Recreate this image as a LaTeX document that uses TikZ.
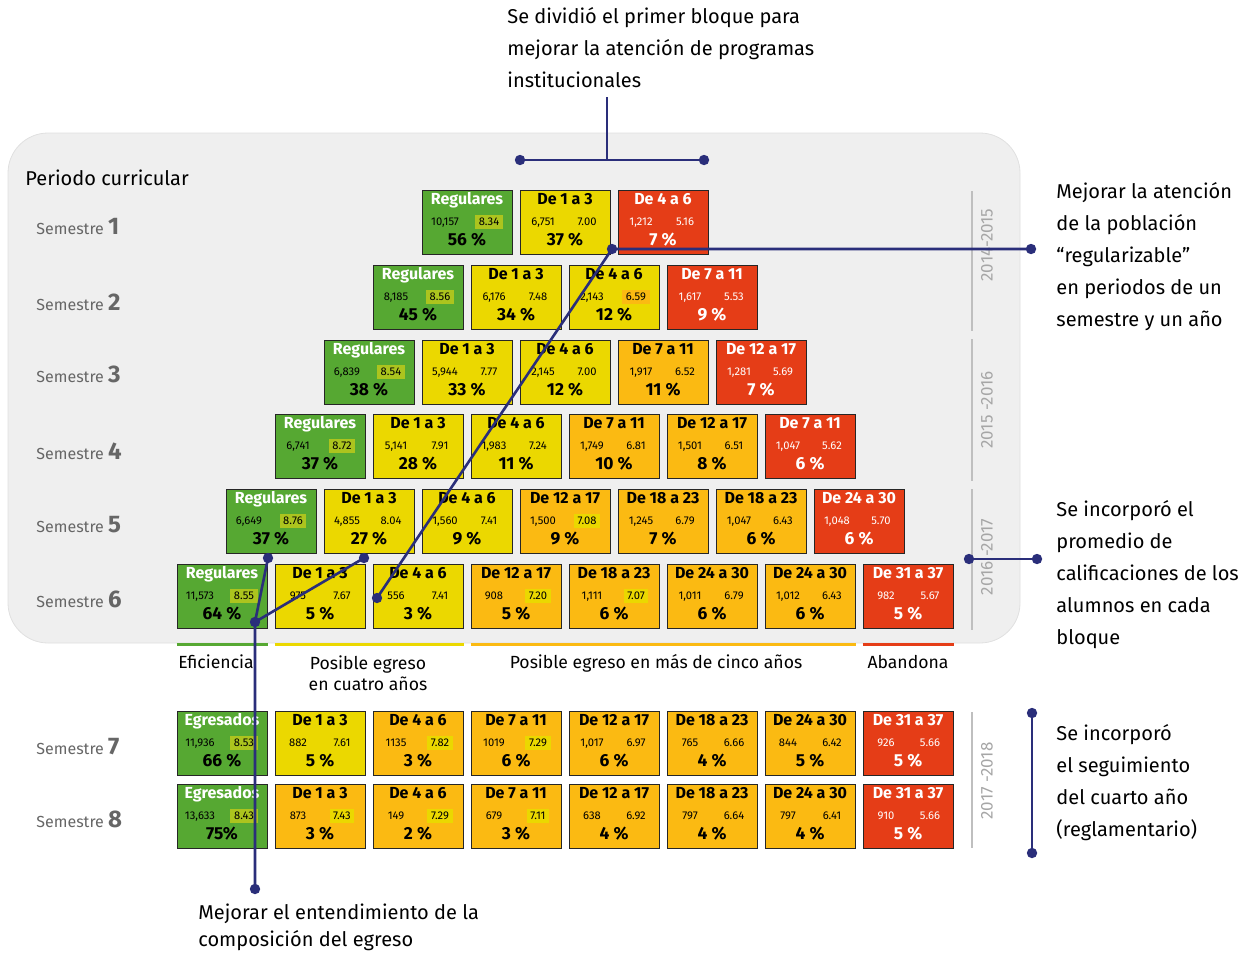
\documentclass[tikz,border=0pt]{standalone}
\usepackage{fontspec}
\setmainfont{Fira Sans}

\definecolor{cverde}{RGB}{86,168,50}
\definecolor{camarillo}{RGB}{235,216,0}
\definecolor{cnaranja}{RGB}{251,186,18}
\definecolor{crojo}{RGB}{229,61,23}
\definecolor{hverde}{RGB}{172,196,30}
\definecolor{azul}{RGB}{42,46,122}
\definecolor{fondo}{RGB}{239,239,239}

% one block: name, x, y, kind, title, students, grade, grade highlight, percent
\newcommand{\bloque}[9]{%
  \node[celda, fill=c#4] (#1) at (#2,#3) {};
  \node[titulo, tit #4] (#1-t) at ([yshift=11pt]#1.center) {#5};
  \node[cifra, num #4] (#1-n) at ([xshift=-11pt]#1.center) {#6};
  \node[cifra, num #4, fill=#8] (#1-g) at ([xshift=11pt]#1.center) {#7};
  \node[porcentaje, num #4] (#1-p) at ([yshift=-9pt]#1.center) {#9};
}

\begin{document}
\begin{tikzpicture}[x=0.5pt, y=-0.5pt,
    celda/.style={draw=black!85, line width=0.5pt, minimum width=45pt, minimum height=32pt, inner sep=0pt},
    titulo/.style={font=\bfseries\fontsize{8}{9}\selectfont, inner sep=0pt, text height=6pt, text depth=1.6pt},
    cifra/.style={font=\fontsize{5.6}{6}\selectfont, inner xsep=1.8pt, inner ysep=1pt, text height=4pt, text depth=1pt},
    porcentaje/.style={font=\bfseries\fontsize{8.7}{9}\selectfont, inner sep=0pt, text height=6pt, text depth=0.5pt},
    tit verde/.style={text=white}, num verde/.style={text=black},
    tit amarillo/.style={text=black}, num amarillo/.style={text=black},
    tit naranja/.style={text=black}, num naranja/.style={text=black},
    tit rojo/.style={text=white}, num rojo/.style={text=white},
    semestre/.style={anchor=base west, inner sep=0pt, text=black!60, font=\fontsize{8}{9}\selectfont},
    anio/.style={rotate=90, text=black!35, font=\fontsize{8.5}{9}\selectfont},
    categoria/.style={font=\fontsize{8.8}{10.5}\selectfont, align=center},
    nota/.style={anchor=north west, align=left, inner sep=0pt, font=\fontsize{10}{16}\selectfont},
    enlace/.style={draw=azul, line width=1.3pt}]
    \useasboundingbox (0,0) rectangle (1251,953);

    % Draw background panel
    \draw[fill=fondo, draw=black!12, rounded corners=20pt] (8,133) rectangle (1020,643);
    \node[anchor=base west, inner sep=0pt, font=\fontsize{10}{12}\selectfont] (periodo) at (25,185) {Periodo curricular};

    % Semester labels
    \foreach \s/\y in {1/234,2/310,3/382,4/459,5/532,6/607,7/754,8/827}
        \node[semestre] (sem\s) at (36,\y) {Semestre {\bfseries\fontsize{12}{12}\selectfont\s}};

    % Semestre 1
    \bloque{b11}{467}{222}{verde}{Regulares}{10,157}{8.34}{hverde}{56 \%}
    \bloque{b12}{565}{222}{amarillo}{De 1 a 3}{6,751}{7.00}{none}{37 \%}
    \bloque{b13}{663}{222}{rojo}{De 4 a 6}{1,212}{5.16}{none}{7 \%}
    % Semestre 2
    \bloque{b21}{418}{297}{verde}{Regulares}{8,185}{8.56}{hverde}{45 \%}
    \bloque{b22}{516}{297}{amarillo}{De 1 a 3}{6,176}{7.48}{none}{34 \%}
    \bloque{b23}{614}{297}{amarillo}{De 4 a 6}{2,143}{6.59}{cnaranja}{12 \%}
    \bloque{b24}{712}{297}{rojo}{De 7 a 11}{1,617}{5.53}{none}{9 \%}
    % Semestre 3
    \bloque{b31}{369}{372}{verde}{Regulares}{6,839}{8.54}{hverde}{38 \%}
    \bloque{b32}{467}{372}{amarillo}{De 1 a 3}{5,944}{7.77}{none}{33 \%}
    \bloque{b33}{565}{372}{amarillo}{De 4 a 6}{2,145}{7.00}{none}{12 \%}
    \bloque{b34}{663}{372}{naranja}{De 7 a 11}{1,917}{6.52}{none}{11 \%}
    \bloque{b35}{761}{372}{rojo}{De 12 a 17}{1,281}{5.69}{none}{7 \%}
    % Semestre 4
    \bloque{b41}{320}{446}{verde}{Regulares}{6,741}{8.72}{hverde}{37 \%}
    \bloque{b42}{418}{446}{amarillo}{De 1 a 3}{5,141}{7.91}{none}{28 \%}
    \bloque{b43}{516}{446}{amarillo}{De 4 a 6}{1,983}{7.24}{none}{11 \%}
    \bloque{b44}{614}{446}{naranja}{De 7 a 11}{1,749}{6.81}{none}{10 \%}
    \bloque{b45}{712}{446}{naranja}{De 12 a 17}{1,501}{6.51}{none}{8 \%}
    \bloque{b46}{810}{446}{rojo}{De 7 a 11}{1,047}{5.62}{none}{6 \%}
    % Semestre 5
    \bloque{b51}{271}{521}{verde}{Regulares}{6,649}{8.76}{hverde}{37 \%}
    \bloque{b52}{369}{521}{amarillo}{De 1 a 3}{4,855}{8.04}{none}{27 \%}
    \bloque{b53}{467}{521}{amarillo}{De 4 a 6}{1,560}{7.41}{none}{9 \%}
    \bloque{b54}{565}{521}{naranja}{De 12 a 17}{1,500}{7.08}{camarillo}{9 \%}
    \bloque{b55}{663}{521}{naranja}{De 18 a 23}{1,245}{6.79}{none}{7 \%}
    \bloque{b56}{761}{521}{naranja}{De 18 a 23}{1,047}{6.43}{none}{6 \%}
    \bloque{b57}{859}{521}{rojo}{De 24 a 30}{1,048}{5.70}{none}{6 \%}
    % Semestre 6
    \bloque{b61}{222}{596}{verde}{Regulares}{11,573}{8.55}{hverde}{64 \%}
    \bloque{b62}{320}{596}{amarillo}{De 1 a 3}{975}{7.67}{none}{5 \%}
    \bloque{b63}{418}{596}{amarillo}{De 4 a 6}{556}{7.41}{none}{3 \%}
    \bloque{b64}{516}{596}{naranja}{De 12 a 17}{908}{7.20}{camarillo}{5 \%}
    \bloque{b65}{614}{596}{naranja}{De 18 a 23}{1,111}{7.07}{camarillo}{6 \%}
    \bloque{b66}{712}{596}{naranja}{De 24 a 30}{1,011}{6.79}{none}{6 \%}
    \bloque{b67}{810}{596}{naranja}{De 24 a 30}{1,012}{6.43}{none}{6 \%}
    \bloque{b68}{908}{596}{rojo}{De 31 a 37}{982}{5.67}{none}{5 \%}
    % Semestre 7
    \bloque{b71}{222}{743}{verde}{Egresados}{11,936}{8.53}{hverde}{66 \%}
    \bloque{b72}{320}{743}{amarillo}{De 1 a 3}{882}{7.61}{none}{5 \%}
    \bloque{b73}{418}{743}{naranja}{De 4 a 6}{1135}{7.82}{camarillo}{3 \%}
    \bloque{b74}{516}{743}{naranja}{De 7 a 11}{1019}{7.29}{camarillo}{6 \%}
    \bloque{b75}{614}{743}{naranja}{De 12 a 17}{1,017}{6.97}{none}{6 \%}
    \bloque{b76}{712}{743}{naranja}{De 18 a 23}{765}{6.66}{none}{4 \%}
    \bloque{b77}{810}{743}{naranja}{De 24 a 30}{844}{6.42}{none}{5 \%}
    \bloque{b78}{908}{743}{rojo}{De 31 a 37}{926}{5.66}{none}{5 \%}
    % Semestre 8
    \bloque{b81}{222}{816}{verde}{Egresados}{13,633}{8.43}{hverde}{75\%}
    \bloque{b82}{320}{816}{naranja}{De 1 a 3}{873}{7.43}{camarillo}{3 \%}
    \bloque{b83}{418}{816}{naranja}{De 4 a 6}{149}{7.29}{camarillo}{2 \%}
    \bloque{b84}{516}{816}{naranja}{De 7 a 11}{679}{7.11}{camarillo}{3 \%}
    \bloque{b85}{614}{816}{naranja}{De 12 a 17}{638}{6.92}{none}{4 \%}
    \bloque{b86}{712}{816}{naranja}{De 18 a 23}{797}{6.64}{none}{4 \%}
    \bloque{b87}{810}{816}{naranja}{De 24 a 30}{797}{6.41}{none}{4 \%}
    \bloque{b88}{908}{816}{rojo}{De 31 a 37}{910}{5.66}{none}{5 \%}

    % Draw category bars
    \draw[cverde, line width=1.5pt] ([yshift=-8pt]b61.south west) -- ([yshift=-8pt]b61.south east);
    \draw[camarillo, line width=1.5pt] ([yshift=-8pt]b62.south west) -- ([yshift=-8pt]b63.south east);
    \draw[cnaranja, line width=1.5pt] ([yshift=-8pt]b64.south west) -- ([yshift=-8pt]b67.south east);
    \draw[crojo, line width=1.5pt] ([yshift=-8pt]b68.south west) -- ([yshift=-8pt]b68.south east);
    \node[categoria, anchor=base] (efic) at (216,668) {Eficiencia};
    \node[categoria, anchor=north] (cuatro) at (368,649) {Posible egreso\\en cuatro años};
    \node[categoria, anchor=base] (cinco) at (656,668) {Posible egreso en más de cinco años};
    \node[categoria, anchor=base] (aband) at (908,668) {Abandona};

    % Draw school years
    \draw[black!25, line width=1pt] (972,191) -- (972,331);
    \draw[black!25, line width=1pt] (972,339) -- (972,481);
    \draw[black!25, line width=1pt] (972,489) -- (972,630);
    \draw[black!25, line width=1pt] (972,712) -- (972,848);
    \node[anio] (y1) at (987,245) {2014-2015};
    \node[anio] (y2) at (987,410) {2015 -2016};
    \node[anio] (y3) at (987,557) {2016 -2017};
    \node[anio] (y4) at (987,781) {2017 -2018};

    % Draw notes
    \node[nota] (nbloque) at (507,7) {Se dividió el primer bloque para\\mejorar la atención de programas\\institucionales};
    \node[nota] (nregular) at (1056,182) {Mejorar la atención\\de la población\\“regularizable”\\en periodos de un\\semestre y un año};
    \node[nota] (npromedio) at (1056,500) {Se incorporó el\\promedio de\\calificaciones de los\\alumnos en cada\\bloque};
    \node[nota] (ncuarto) at (1056,724) {Se incorporó\\el seguimiento\\del cuarto año\\(reglamentario)};
    \node[nota, font=\fontsize{10}{13.5}\selectfont] (negreso) at (198,903) {Mejorar el entendimiento de la\\composición del egreso};

    % Draw leader lines
    \coordinate (t0) at (607,97);
    \coordinate (tm) at (607,160);
    \coordinate (t1) at (520,160);
    \coordinate (t2) at (704,160);
    \coordinate (a1) at (612,249);
    \coordinate (a2) at (1031,249);
    \coordinate (a3) at (377,598);
    \coordinate (m1) at (969,559);
    \coordinate (m2) at (1037,559);
    \coordinate (v1) at (1032,713);
    \coordinate (v2) at (1032,853);
    \coordinate (e0) at (255,889);
    \coordinate (e1) at (255,622);
    \coordinate (e2) at (268,558);
    \coordinate (e3) at (364,558);
    \draw[enlace] (t0) -- (tm);
    \draw[enlace] (t1) -- (t2);
    \draw[enlace] (a2) -- (a1) -- (a3);
    \draw[enlace] (m1) -- (m2);
    \draw[enlace] (v1) -- (v2);
    \draw[enlace] (e0) -- (e1) -- (e2);
    \draw[enlace] (e1) -- (e3);
    \foreach \p in {t1,t2,a1,a2,a3,m1,m2,v1,v2,e0,e1,e2,e3}
        \fill[azul] (\p) circle (2.6pt);

\end{tikzpicture}
\end{document}
